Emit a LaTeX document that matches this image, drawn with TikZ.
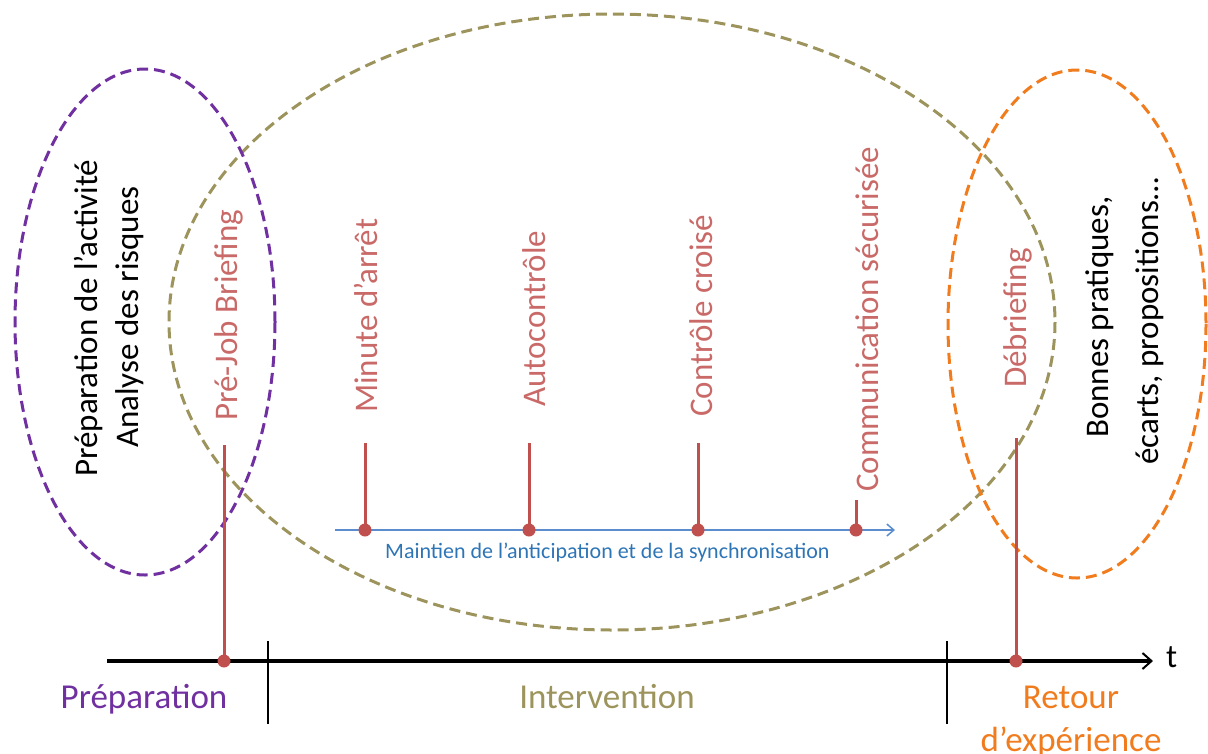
\documentclass[tikz,border=0pt]{standalone}
\usepackage{fontspec}
\setmainfont{Carlito}
\usetikzlibrary{arrows.meta}
\definecolor{prep}{RGB}{112,48,160}
\definecolor{oliv}{RGB}{156,148,92}
\definecolor{oran}{RGB}{240,124,30}
\definecolor{stem}{RGB}{192,80,77}
\definecolor{blu}{RGB}{91,141,206}
\definecolor{blutxt}{RGB}{46,117,182}
\tikzset{
  dashell/.style={line width=3pt, dash pattern=on 11pt off 6pt},
  stemline/.style={draw=stem, line width=3pt},
  dot/.style={circle, fill=stem, inner sep=0pt, minimum size=13pt},
  vlab/.style={rotate=90, anchor=base west, inner sep=0pt, font=\fontsize{33}{33}\selectfont},
  redlab/.style={vlab, text=stem!85!white},
  blacklab/.style={vlab, text=black},
  phase/.style={font=\fontsize{35}{43}\selectfont, align=center, inner sep=0pt, anchor=base},
}
\begin{document}
\begin{tikzpicture}[x=1pt,y=-1pt]
\useasboundingbox (0,0) rectangle (1208,753);
% ellipses
\draw[dashell, draw=oliv] (612,322) ellipse [x radius=443, y radius=308];
\draw[dashell, draw=prep] (145,322) ellipse [x radius=130, y radius=253];
\draw[dashell, draw=oran] (1077,324) ellipse [x radius=129, y radius=254];
% timeline
\coordinate (tl0) at (107,661);
\coordinate (tl1) at (1153,661);
\draw[line width=4pt, -{Straight Barb[length=9pt,width=16pt,line width=2pt]}] (tl0) -- (tl1);
\node[anchor=base west, font=\fontsize{33}{33}\selectfont, inner sep=0pt] (t) at (1166,667) {t};
\coordinate (k1a) at (268,641); \coordinate (k1b) at (268,724);
\coordinate (k2a) at (947,641); \coordinate (k2b) at (947,724);
\draw[line width=2pt] (k1a) -- (k1b);
\draw[line width=2pt] (k2a) -- (k2b);
% phase labels
\node[phase, text=prep] (prepl) at (144,708) {Préparation};
\node[phase, text=oliv] (intl) at (607,708) {Intervention};
\node[phase, text=oran] (retl) at (1071,751) {Retour\\d’expérience};
% pre-job and debriefing stems
\node[dot] (d1) at (224,661) {};
\coordinate (s1) at (224,445);
\draw[stemline] (s1) -- (d1.center);
\node[dot] (d2) at (1016,661) {};
\coordinate (s2) at (1016,438);
\draw[stemline] (s2) -- (d2.center);
% blue arrow
\coordinate (b0) at (335,530);
\coordinate (b1) at (895,530);
\draw[draw=blu, line width=2pt, -{Straight Barb[length=7pt,width=12pt,line width=1.5pt]}] (b0) -- (b1);
\node[text=blutxt, font=\fontsize{22}{22}\selectfont, inner sep=0pt, anchor=base west] (blab) at (385,558) {Maintien de l’anticipation et de la synchronisation};
\foreach \n/\x/\y in {m/365/443, a/529/443, c/698/443, s/856/500}{
  \node[dot] (dot\n) at (\x,530) {};
  \coordinate (top\n) at (\x,\y);
  \draw[stemline] (top\n) -- (dot\n.center);
}
% rotated labels
\node[blacklab] (l1) at (97,477) {Préparation de l’activité};
\node[blacklab] (l2) at (138,448) {Analyse des risques};
\node[redlab] (l3) at (237,421) {Pré-Job Briefing};
\node[redlab] (l4) at (377,413) {Minute d’arrêt};
\node[redlab] (l5) at (545,407) {Autocontrôle};
\node[redlab] (l6) at (712,417) {Contrôle croisé};
\node[redlab] (l7) at (878,492) {Communication sécurisée};
\node[redlab] (l8) at (1026,388) {Débriefing};
\node[blacklab] (l9) at (1108,438) {Bonnes pratiques,};
\node[blacklab] (l10) at (1158,465) {écarts, propositions…};
\end{tikzpicture}
\end{document}
